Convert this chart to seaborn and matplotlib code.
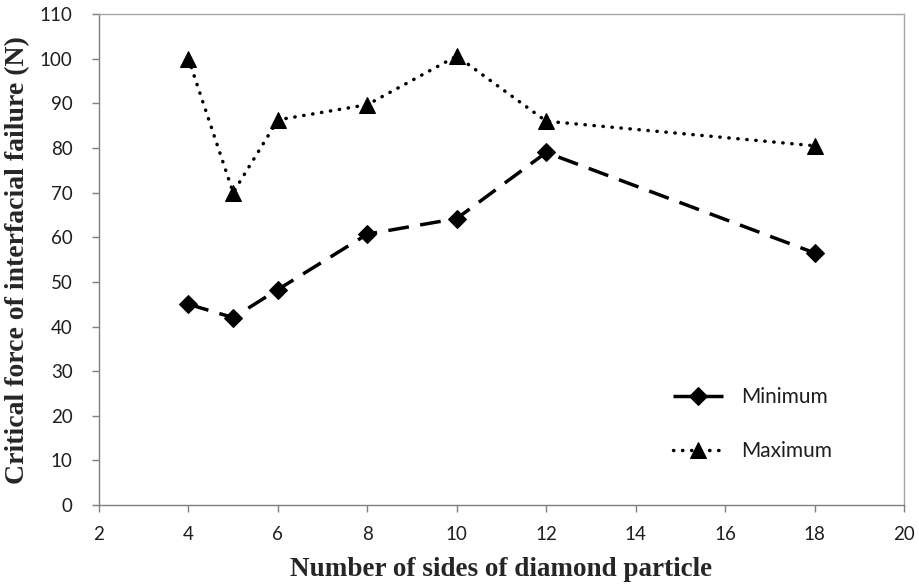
import matplotlib
matplotlib.use("Agg")
import matplotlib.pyplot as plt
import seaborn as sns
import pandas as pd

# Number of sides of the diamond particle
sides = [4, 5, 6, 8, 10, 12, 18]
# Critical force of interfacial failure (N)
minimum = [45, 42, 48.3, 60.7, 64.2, 79, 56.5]
maximum = [100, 70, 86.3, 89.7, 100.6, 86, 80.5]

series_names = ["Minimum", "Maximum"]

sns.set_theme(style="white")
plt.rcParams["font.family"] = ["Lato", "DejaVu Sans"]

df = pd.DataFrame({
    "sides": sides * 2,
    "force": minimum + maximum,
    "series": [series_names[0]] * len(sides) + [series_names[1]] * len(sides),
})

fig = plt.figure(figsize=(9.2, 5.86), dpi=100)
ax = fig.add_axes([0.1076, 0.138, 0.875, 0.838])

sub_min = df[df["series"] == "Minimum"]
sub_max = df[df["series"] == "Maximum"]

sns.lineplot(data=sub_min, x="sides", y="force", ax=ax, color="black",
             marker="D", markersize=9, linewidth=2.5,
             linestyle=(0, (6.0, 3.3)), dash_capstyle="butt",
             markeredgecolor="black", label="Minimum")
sns.lineplot(data=sub_max, x="sides", y="force", ax=ax, color="black",
             marker="^", markersize=12, linewidth=2.5,
             linestyle=(0, (0.1, 2.5)), dash_capstyle="round",
             markeredgecolor="black", label="Maximum")

ax.set_xlim(2, 20)
ax.set_ylim(0, 110)
ax.set_xticks(range(2, 21, 2))
ax.set_yticks(range(0, 111, 10))

ax.tick_params(axis="both", direction="out", length=5, width=1,
               color="#7f7f7f", labelsize=13.5, labelcolor="#1e1e1e",
               bottom=True, left=True)
ax.tick_params(axis="y", pad=14)
ax.tick_params(axis="x", pad=10)

for name, sp in ax.spines.items():
    sp.set_visible(True)
    sp.set_linewidth(1.0)
    sp.set_color("#7f7f7f" if name in ("left", "bottom") else "#a6a6a6")

ax.set_xlabel("Number of sides of diamond particle",
              family="Liberation Serif", fontweight="bold", fontsize=19.5,
              labelpad=10)
ax.set_ylabel("Critical force of interfacial failure (N)",
              family="Liberation Serif", fontweight="bold", fontsize=20,
              labelpad=7)

ax.legend(loc="upper left", bbox_to_anchor=(0.703, 0.257), borderaxespad=0,
          frameon=False, fontsize=15, handlelength=2.4, labelspacing=1.64,
          handletextpad=0.85, labelcolor="#1e1e1e")

fig.savefig("out.png", dpi=100)
